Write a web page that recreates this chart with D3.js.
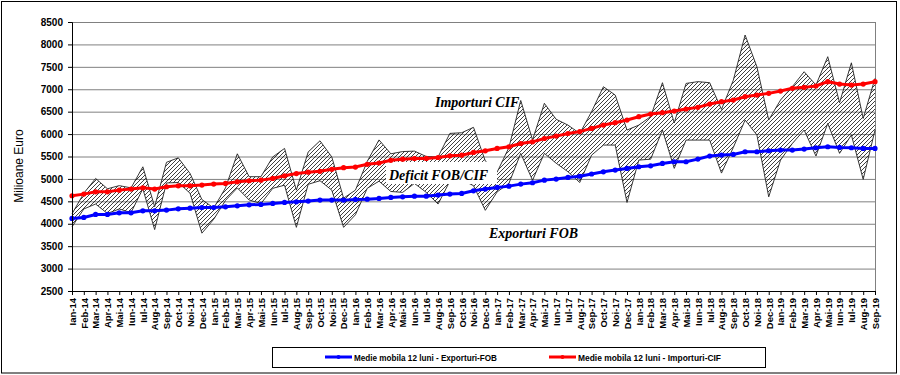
<!DOCTYPE html>
<html>
<head>
<meta charset="utf-8">
<script src="https://cdn.jsdelivr.net/npm/d3@7"></script>
<style>
  body { margin: 0; background: #fff; }
  svg { display: block; }
  .tick text { font-family: "Liberation Sans", Arial, sans-serif; font-weight: bold; }
  .ann { font-family: "Liberation Serif", "Times New Roman", serif; font-weight: bold; font-style: italic; font-size: 14px; }
</style>
</head>
<body>
<div id="chart"></div>
<script>
'use strict';

const width = 900,
    height = 375,
    margin = {top: 22, bottom: 84, right: 25, left: 72};

// luni (etichete axa X)
const luni = ["Ian","Feb","Mar","Apr","Mai","Iun","Iul","Aug","Sep","Oct","Noi","Dec"];
const ani = ["14","15","16","17","18","19"];
const months = [];
ani.forEach(a => luni.forEach(l => months.push(l + "-" + a)));
months.splice(69); // pana la Sep-19

// valori lunare (milioane euro)
const exporturi = [
  3930, 4330, 4440, 4230, 4330, 4250, 4780, 3870, 4910, 4920, 4680, 3790,
  4100, 4520, 4800, 4530, 4450, 4790, 4860, 3920, 4880, 4960, 4750, 3920,
  4200, 4790, 4950, 4720, 4700, 4900, 4700, 4440, 4950, 4980, 4850, 4300,
  4710, 4900, 5570, 4970, 5570, 5350, 5160, 4920, 5530, 5755, 5755, 4475,
  5420, 5440, 6090, 5235, 5866, 5866, 5866, 5130, 5700, 6313, 5980, 4600,
  5420, 5790, 6090, 5510, 6238, 5570, 5980, 4990, 6089
];
const importuri = [
  4220, 4680, 5010, 4780, 4850, 4800, 5270, 4380, 5370, 5470, 5120, 4540,
  4350, 4800, 5560, 5050, 5050, 5490, 5680, 4750, 5600, 5850, 5490, 4570,
  4750, 5390, 5870, 5560, 5610, 5620, 5500, 5490, 6015, 6030, 6150, 5400,
  5150, 5700, 6750, 5870, 6685, 6330, 6200, 6015, 6500, 7056, 6870, 6090,
  6200, 6390, 7146, 6250, 7130, 7170, 7146, 6550, 7200, 8210, 7500, 6313,
  6760, 7057, 7390, 7094, 7726, 6700, 7590, 6350, 7243
];

// medii mobile 12 luni
const mediaExp = [
  4118, 4140, 4207, 4207, 4244, 4244, 4289, 4289, 4304, 4334, 4348, 4363,
  4363, 4378, 4400, 4423, 4430, 4453, 4475, 4489, 4505, 4527, 4527, 4527,
  4542, 4549, 4564, 4587, 4601, 4616, 4616, 4639, 4661, 4676, 4735, 4773,
  4810, 4839, 4884, 4914, 4973, 4996, 5033, 5060, 5110, 5159, 5197, 5234,
  5271, 5293, 5345, 5383, 5383, 5442, 5509, 5531, 5546, 5606, 5606, 5628,
  5643, 5643, 5665, 5695, 5717, 5702, 5695, 5680, 5680
];
const mediaImp = [
  4624, 4661, 4713, 4713, 4750, 4773, 4802, 4773, 4825, 4847, 4847, 4862,
  4884, 4899, 4936, 4959, 4973, 5011, 5070, 5120, 5150, 5170, 5215, 5250,
  5265, 5325, 5355, 5415, 5440, 5455, 5458, 5478, 5515, 5530, 5590, 5627,
  5680, 5716, 5790, 5827, 5902, 5955, 6013, 6055, 6127, 6202, 6254, 6313,
  6388, 6447, 6477, 6514, 6559, 6596, 6670, 6722, 6759, 6834, 6871, 6908,
  6960, 7020, 7042, 7072, 7169, 7116, 7094, 7116, 7169
];

const yTicks = [2500, 3000, 3500, 4000, 4500, 5000, 5500, 6000, 6500, 7000, 7500, 8000, 8500];
const serii = [
  {name: "Medie mobila 12 luni - Exporturi-FOB", values: mediaExp, color: "#0000ff"},
  {name: "Medie mobila 12 luni - Importuri-CIF", values: mediaImp, color: "#ff0000"}
];

const svg = d3.select("#chart")
    .append("svg")
    .attr("width", width)
    .attr("height", height);

// cadru exterior
svg.append("rect")
    .attr("x", 1.5).attr("y", 1.5)
    .attr("width", 895).attr("height", 371.5)
    .attr("fill", "#fff")
    .attr("stroke", "#000");

const defs = svg.append("defs");
defs.append("pattern")
    .attr("id", "hatch")
    .attr("patternUnits", "userSpaceOnUse")
    .attr("width", 4).attr("height", 4)
    .append("path")
    .attr("d", "M-1,1 L1,-1 M0,4 L4,0 M3,5 L5,3")
    .attr("stroke", "#000")
    .attr("stroke-width", 0.75);

const xScale = d3.scalePoint()
    .domain(months)
    .range([margin.left, width - margin.right]);
const yScale = d3.scaleLinear()
    .domain([2500, 8500])
    .range([height - margin.bottom, margin.top]);

const plotW = width - margin.right - margin.left;

// grid
svg.append("g")
    .attr("transform", `translate(${margin.left},0)`)
    .call(d3.axisLeft(yScale).tickValues(yTicks).tickSize(-plotW).tickFormat(""))
    .call(g => g.select(".domain").remove())
    .selectAll("line")
    .attr("stroke", "#808080");

svg.append("line")
    .attr("x1", width - margin.right + 0.5).attr("x2", width - margin.right + 0.5)
    .attr("y1", margin.top).attr("y2", height - margin.bottom)
    .attr("stroke", "#808080");

// zona hasurata (deficit)
const area = d3.area()
    .x((d, i) => xScale(months[i]))
    .y0((d, i) => yScale(exporturi[i]))
    .y1((d, i) => yScale(importuri[i]));

svg.append("path")
    .datum(months)
    .attr("d", area)
    .attr("fill", "url(#hatch)");

const lineLunar = vals => d3.line()
    .x((d, i) => xScale(months[i]))
    .y(d => yScale(d))(vals);

[exporturi, importuri].forEach(v => {
    svg.append("path")
        .attr("d", lineLunar(v))
        .attr("fill", "none")
        .attr("stroke", "#222")
        .attr("stroke-width", 0.9);
});

// caseta alba sub eticheta deficit
svg.append("rect")
    .attr("x", 386).attr("y", 162)
    .attr("width", 111).attr("height", 22)
    .attr("fill", "#fff");

// medii mobile
serii.forEach(s => {
    svg.append("path")
        .attr("d", lineLunar(s.values))
        .attr("fill", "none")
        .attr("stroke", s.color)
        .attr("stroke-width", 3);
    svg.append("g")
        .selectAll("circle")
        .data(s.values)
        .join("circle")
        .attr("cx", (d, i) => xScale(months[i]))
        .attr("cy", d => yScale(d))
        .attr("r", 2.6)
        .attr("fill", s.color);
});

// axa Y
const yAxis = svg.append("g")
    .attr("transform", `translate(${margin.left},0)`)
    .call(d3.axisLeft(yScale).tickValues(yTicks).tickSize(4).tickPadding(5).tickFormat(d3.format("d")));
yAxis.select(".domain").attr("stroke", "#000");
yAxis.selectAll("text").style("font-size", "10px");

// axa X
const xAxis = svg.append("g")
    .attr("transform", `translate(0,${height - margin.bottom})`)
    .call(d3.axisBottom(xScale).tickSize(4).tickSizeOuter(0));
xAxis.selectAll("text")
    .style("font-size", "9.5px")
    .attr("text-anchor", "end")
    .attr("transform", "rotate(-90)")
    .attr("x", -7)
    .attr("y", 0)
    .attr("dy", "0.35em");

svg.append("text")
    .attr("transform", "translate(23,166) rotate(-90)")
    .attr("text-anchor", "middle")
    .style("font-family", "Liberation Sans, Arial, sans-serif")
    .style("font-size", "12px")
    .text("Milioane Euro");

// etichete
svg.append("text").attr("class", "ann")
    .attr("x", 435).attr("y", 107).text("Importuri CIF");

svg.append("text").attr("class", "ann")
    .attr("x", 389).attr("y", 180).text("Deficit FOB/CIF");

svg.append("text").attr("class", "ann")
    .attr("x", 489).attr("y", 238).text("Exporturi FOB");

// legenda
const legend = svg.append("g");
legend.append("rect")
    .attr("x", 272.5).attr("y", 347.5)
    .attr("width", 493).attr("height", 20)
    .attr("fill", "#fff")
    .attr("stroke", "#000");

const legX = [325, 549];
serii.forEach((s, i) => {
    const g = legend.append("g").attr("transform", `translate(${legX[i]},357)`);
    g.append("line")
        .attr("x1", 0).attr("x2", 27)
        .attr("stroke", s.color).attr("stroke-width", 3);
    g.append("circle").attr("cx", 13.5).attr("r", 2).attr("fill", s.color);
    g.append("text")
        .attr("x", 29).attr("y", 3.5)
        .attr("textLength", 143)
        .attr("lengthAdjust", "spacingAndGlyphs")
        .style("font-family", "Liberation Sans, Arial, sans-serif")
        .style("font-weight", "bold")
        .style("font-size", "9px")
        .text(s.name);
});
</script>
</body>
</html>
